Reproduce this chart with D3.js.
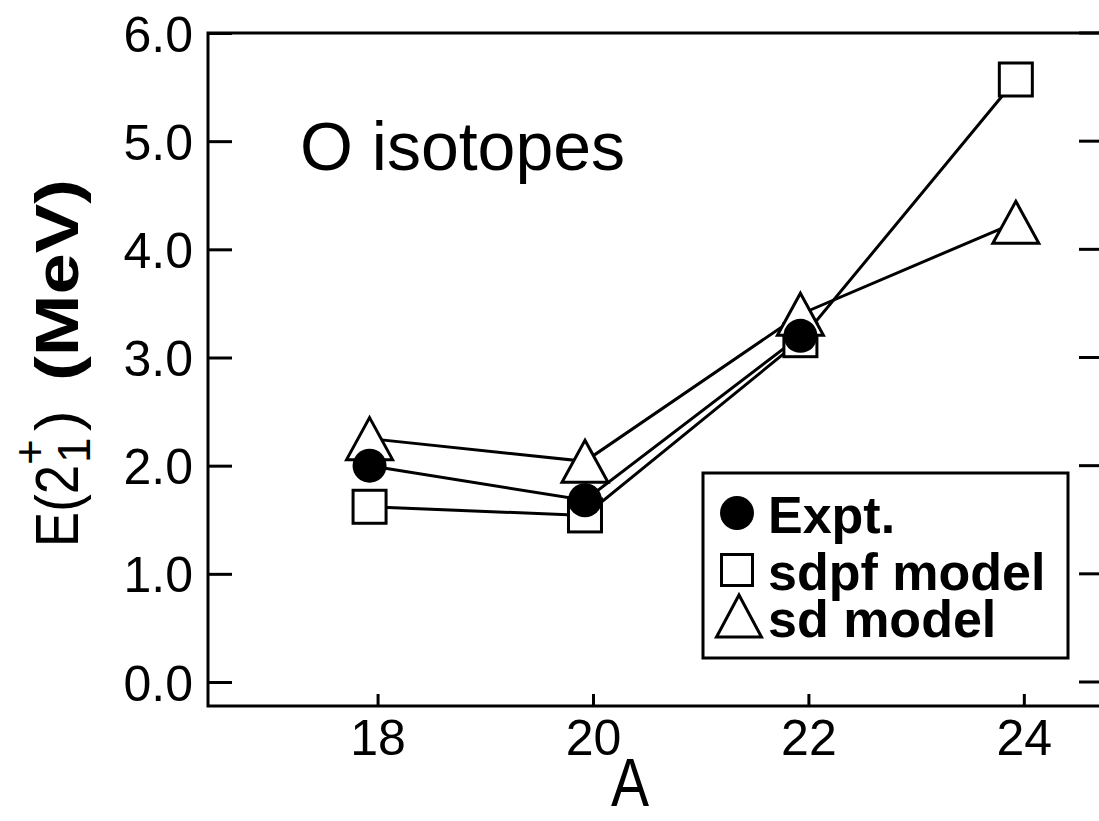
<!DOCTYPE html>
<html>
<head>
<meta charset="utf-8">
<script src="https://cdn.jsdelivr.net/npm/d3@7"></script>
<style>
  html, body { margin: 0; padding: 0; background: #fff; }
  svg { display: block; }
  text { font-family: "Liberation Sans", Arial, Helvetica, sans-serif; fill: #000; }
</style>
</head>
<body>
<svg id="chart" width="1099" height="821"></svg>
<script>
// Mass number A of the oxygen isotopes
const massNumbers = [18, 20, 22, 24];
// E(2+_1) excitation energies in MeV
const expt = [2.00, 1.68, 3.20];          // measured, A = 18, 20, 22
const sdpfModel = [1.62, 1.54, 3.16, 5.57];
const sdModel = [2.25, 2.04, 3.40, 4.25];
// Axis ticks
const xTicks = [18, 20, 22, 24];
const yTicks = [0, 1, 2, 3, 4, 5, 6];
const legendLabels = ["Expt.", "sdpf model", "sd model"];

const svg = d3.select("#chart");
const frame = { left: 208, top: 33, right: 1103, bottom: 706 };

const x = d3.scaleLinear().domain([16.5, 24.8]).range([frame.left, 1102]);
const y = d3.scaleLinear().domain([0, 6]).range([682, 33]);

const lw = 3;

// Frame (the right edge runs just past the page)
svg.append("path")
  .attr("d", `M${frame.right},${frame.top}H${frame.left}V${frame.bottom}H${frame.right}`)
  .attr("fill", "none").attr("stroke", "#000").attr("stroke-width", lw);

// Bottom axis: short ticks pointing up, labels below
const tickShift = 8;
const xAxis = d3.axisBottom(x).tickValues(xTicks).tickSize(0).tickPadding(0).tickFormat(d3.format("d"));
const gx = svg.append("g").attr("transform", `translate(${tickShift},${frame.bottom})`).call(xAxis);
gx.select(".domain").remove();
gx.selectAll(".tick line").attr("y1", 0).attr("y2", -12).attr("stroke", "#000").attr("stroke-width", lw);
gx.selectAll(".tick text").attr("y", 49).attr("dy", 0).attr("font-size", 50)
  .style("font-family", "'Liberation Sans', Arial, sans-serif").attr("fill", "#000");

// Left axis: inward ticks, labels to the left
const yAxis = d3.axisLeft(y).tickValues(yTicks).tickSize(0).tickPadding(0).tickFormat(d3.format(".1f"));
const gy = svg.append("g").attr("transform", `translate(${frame.left},0)`).call(yAxis);
gy.select(".domain").remove();
gy.selectAll(".tick line").attr("x1", 0).attr("x2", 24).attr("stroke", "#000").attr("stroke-width", lw);
gy.selectAll(".tick text").attr("x", -15).attr("dy", "0.36em").attr("font-size", 50)
  .style("font-family", "'Liberation Sans', Arial, sans-serif").attr("fill", "#000");

// Right axis ticks
svg.append("g").selectAll("line").data(yTicks).join("line")
  .attr("x1", frame.right - 24).attr("x2", frame.right)
  .attr("y1", d => y(d)).attr("y2", d => y(d))
  .attr("stroke", "#000").attr("stroke-width", lw);

// Marker shapes
const circR = 17, sqS = 33, triW = 46, triH = 42;
const triPath = (cx, cy, w, h) =>
  `M${cx},${cy - h / 2}L${cx + w / 2},${cy + h / 2}L${cx - w / 2},${cy + h / 2}Z`;

const line = d3.line().x(d => x(d[0])).y(d => y(d[1]));
const pairs = vals => vals.map((v, i) => [massNumbers[i], v]);

const series = [pairs(sdModel), pairs(sdpfModel), pairs(expt)];
svg.append("g").selectAll("path").data(series).join("path")
  .attr("d", line).attr("fill", "none").attr("stroke", "#000").attr("stroke-width", lw);

// sdpf squares
svg.append("g").selectAll("rect").data(pairs(sdpfModel)).join("rect")
  .attr("x", d => x(d[0]) - sqS / 2).attr("y", d => y(d[1]) - sqS / 2)
  .attr("width", sqS).attr("height", sqS)
  .attr("fill", "#fff").attr("stroke", "#000").attr("stroke-width", lw);

// sd triangles
svg.append("g").selectAll("path").data(pairs(sdModel)).join("path")
  .attr("d", d => triPath(x(d[0]), y(d[1]), triW, triH))
  .attr("fill", "#fff").attr("stroke", "#000").attr("stroke-width", lw).attr("stroke-linejoin", "miter");

// Experimental points
svg.append("g").selectAll("circle").data(pairs(expt)).join("circle")
  .attr("cx", d => x(d[0])).attr("cy", d => y(d[1])).attr("r", circR).attr("fill", "#000");

// Panel title
svg.append("text").attr("x", 300).attr("y", 170).attr("font-size", 68).text("O isotopes");

// Axis titles
svg.append("text").attr("transform", "translate(630,806) scale(0.84,1)")
  .attr("text-anchor", "middle").attr("font-size", 68).text("A");

const gl = svg.append("g").attr("transform", "translate(78,547) rotate(-90)");
gl.append("text").attr("x", 0).attr("y", 0).attr("font-size", 62)
  .attr("textLength", 82).attr("lengthAdjust", "spacingAndGlyphs").text("E(2");
gl.append("text").attr("x", 84).attr("y", 12).attr("font-size", 46).text("1");
gl.append("text").attr("x", 82).attr("y", -33).attr("font-size", 44).text("+");
gl.append("text").attr("x", 116).attr("y", 0).attr("font-size", 62).text(")");
gl.append("text").attr("x", 166).attr("y", 0).attr("font-size", 62).attr("font-weight", "bold")
  .attr("textLength", 202).attr("lengthAdjust", "spacingAndGlyphs").text("(MeV)");

// Legend
const lg = svg.append("g");
lg.append("rect").attr("x", 703).attr("y", 473).attr("width", 365).attr("height", 185)
  .attr("fill", "#fff").attr("stroke", "#000").attr("stroke-width", lw);
const rowY = [513, 570, 616];
lg.append("circle").attr("cx", 737).attr("cy", rowY[0]).attr("r", circR).attr("fill", "#000");
lg.append("rect").attr("x", 737 - 15.5).attr("y", rowY[1] - 15.5).attr("width", 31).attr("height", 31)
  .attr("fill", "#fff").attr("stroke", "#000").attr("stroke-width", lw);
lg.append("path").attr("d", triPath(739, rowY[2], 45, 42))
  .attr("fill", "#fff").attr("stroke", "#000").attr("stroke-width", lw);
const baseY = [533, 590, 637];
lg.selectAll("text.lab").data(legendLabels).join("text").attr("class", "lab")
  .attr("x", 768).attr("y", (d, i) => baseY[i])
  .attr("font-size", 52).attr("font-weight", "bold").text(d => d);
</script>
</body>
</html>
